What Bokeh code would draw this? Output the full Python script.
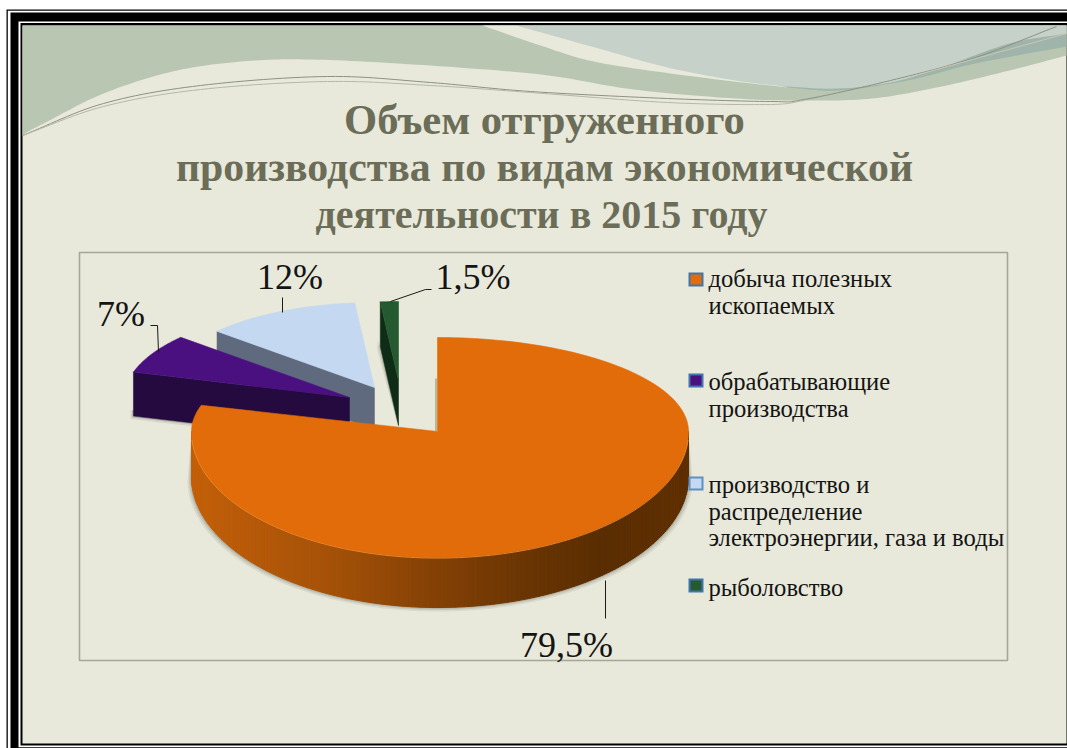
import numpy as np
from bokeh.plotting import figure
from bokeh.models import Range1d
from bokeh.core.properties import value
from bokeh.embed import file_html
from bokeh.resources import INLINE

# ---------- data ----------
categories = ["добыча полезных ископаемых", "обрабатывающие производства",
              "производство и распределение электроэнергии, газа и воды", "рыболовство"]
shares = [79.5, 7.0, 12.0, 1.5]
share_labels = ["79,5%", "7%", "12%", "1,5%"]
legend_lines = [["добыча полезных", "ископаемых"],
                ["обрабатывающие", "производства"],
                ["производство и", "распределение", "электроэнергии, газа и воды"],
                ["рыболовство"]]
title_lines = ["Объем отгруженного", "производства по видам экономической",
               "деятельности в 2015 году"]

# ---------- style ----------
BG = "#e8e9da"
top_colors = ["#e26c09", "#4a1080", "#c4d8f2", "#255a31"]
wall_colors = ["#8a4606", "#240a3e", "#5f6a7e", "#0e2c16"]
edge_colors = ["#3f74ae", "#3f74ae", "#5f8fc6", "#3f74ae"]
TITLE = "#6b6d58"
SERIF = "Liberation Serif"
BASE_SHIFT = 0.28  # em: the svg backend draws "alphabetic" text this far below its anchor

# slice layout: apex x, apex y, left radius, right radius, back depth, front depth, wall height
layout = [(437, 431, 246, 251, 94, 126, 50),
          (349, 397, 225, 225, 91, 110, 44),
          (374, 387, 210, 210, 85, 110, 42),
          (398, 380, 194, 194, 79, 110, 45)]

p = figure(width=1067, height=748, output_backend="svg", toolbar_location=None,
           x_range=Range1d(0, 1067), y_range=Range1d(748, 0),
           x_axis_type=None, y_axis_type=None, min_border=0, outline_line_color=None,
           background_fill_color="white", border_fill_color="white")
p.grid.visible = False


def box(l, t, r, b, c, **kw):
    p.quad(left=[l], right=[r], top=[t], bottom=[b], fill_color=c, line_color=None, **kw)


def label(x, y, t, size, align, color, **kw):
    p.text([x], [y - BASE_SHIFT * size], text=[t], text_font=value(SERIF),
           text_font_size=value(f"{size}px"), text_align=align, text_baseline="alphabetic",
           text_color=color, **kw)


def spline(pts, n=14):
    P = np.array(pts, float)
    P = np.vstack([2 * P[0] - P[1], P, 2 * P[-1] - P[-2]])
    out = []
    for i in range(1, len(P) - 2):
        for t in np.linspace(0, 1, n, endpoint=False):
            a, b, c, d = P[i - 1], P[i], P[i + 1], P[i + 2]
            out.append(0.5 * (2 * b + (c - a) * t + (2 * a - 5 * b + 4 * c - d) * t ** 2
                              + (3 * b - a - 3 * c + d) * t ** 3))
    out.append(P[-2])
    return np.array(out)


# ---------- frame and slide background ----------
box(6, 9, 1067, 748, "black")
box(7.3, 10.3, 1067, 748, "white")
box(10, 12, 1067, 748, "black")
box(18, 21, 1067, 746.7, "white")
box(20, 22.6, 1067, 745, "black")
box(22, 25, 1066, 743, BG)

# ---------- decorative swoosh ----------
sage_low = spline([(22, 134), (45, 122), (103, 93), (172, 71), (241, 61), (310, 59), (413, 64), (540, 74),
                   (633, 89), (735, 98), (804, 100), (872, 98), (941, 86), (1009, 70), (1066, 55)])
sage_poly_x = [22] + list(sage_low[:, 0]) + [1066, 540, 482, 22]
sage_poly_y = [134] + list(sage_low[:, 1]) + [25, 25, 25, 25]
p.patch(sage_poly_x, sage_poly_y, fill_color="#b9c6b1", line_color=None)

cream_up = spline([(482, 25), (540, 45), (598, 62), (701, 77), (787, 87)])
pale_low = spline([(516, 25), (530, 29), (598, 48), (667, 67), (735, 80), (787, 86), (838, 88),
                   (890, 82), (941, 67), (1009, 43), (1066, 33)])
teal_low = spline([(787, 87), (838, 90), (907, 80), (975, 63), (1066, 46)])
p.patch(list(cream_up[:, 0]) + [787, 516], list(cream_up[:, 1]) + [87, 25], fill_color=BG, line_color=None)
p.patch(list(teal_low[:, 0]) + [1066, 787], list(teal_low[:, 1]) + [25, 25], fill_color="#9fb5ab", line_color=None)
p.patch(list(pale_low[:, 0]) + [1066, 516], list(pale_low[:, 1]) + [25, 25],
        fill_color="#c5d1c9", line_color=None)

line_a = spline([(22, 135), (103, 103), (200, 85), (327, 76), (430, 82), (530, 91), (667, 98), (770, 101),
                 (804, 99), (890, 80), (975, 57), (1056, 26)])
line_b = spline([(22, 135), (103, 106), (200, 89), (327, 81), (430, 85), (530, 92), (667, 102), (770, 104),
                 (804, 100)])
p.line(line_a[:, 0], line_a[:, 1], line_color="#8d9180", line_width=1)
p.line(line_b[:, 0], line_b[:, 1], line_color="#b4b8a6", line_width=1)
p.line([907, 1066], [77, 33], line_color="#c9c6b0", line_width=1)

# ---------- chart area ----------
p.quad(left=[79], right=[1007], top=[252], bottom=[660], fill_color=None,
       line_color="#a5a698", line_width=1.6)

# ---------- 3D pie ----------
ends = np.cumsum(shares) / sum(shares) * 2 * np.pi
starts = np.r_[0, ends[:-1]]


def rim(i, th):
    ax, ay, rl, rr, back, front, _ = layout[i]
    s, c = np.sin(th), np.cos(th)
    return ax + np.where(s > 0, rr, rl) * s, ay - np.where(c > 0, back, front) * c


def wall_h(i, th):
    return layout[i][6] * (0.9 - 0.1 * np.cos(th))


def cut_wall(i):
    ax, ay, *_, h = layout[i]
    ex, ey = rim(i, np.array(starts[i]))
    for off, a in ((3, 0.12), (1.5, 0.2)):
        p.patch([ex - off, ax, ax, ex - off], [ey + h - 6, ay + h - 6, ay + h + off, ey + h + off],
                fill_color="#55564a", fill_alpha=a, line_color=None)
    p.patch([ex, ax, ax, ex], [ey, ay, ay + h, ey + h], fill_color=wall_colors[i], line_color=wall_colors[i],
            line_width=0.5)


def top_face(i):
    ax, ay, *_ = layout[i]
    th = np.linspace(starts[i], ends[i], 140)
    x, y = rim(i, th)
    p.patch(np.r_[ax, x], np.r_[ay, y], fill_color=top_colors[i], line_color=top_colors[i], line_width=0.6)


# small slices, back to front
for i in (3, 2, 1):
    cut_wall(i)
    top_face(i)

# main slice: rim with lighting gradient
stops_x = [191, 330, 430, 520, 600, 688]
stops_r = [196, 165, 134, 108, 90, 96]
stops_g = [96, 82, 66, 54, 46, 48]
stops_b = [10, 8, 6, 4, 2, 2]
th = np.linspace(np.pi / 2, 3 * np.pi / 2, 181)
x, y = rim(0, th)
hh = wall_h(0, th)
for off, a in ((4, 0.10), (2.5, 0.14), (1.2, 0.2)):
    p.patch(np.r_[x + off * np.sin(th), x[::-1]], np.r_[y + hh + off, y[::-1]],
            fill_color="#55564a", fill_alpha=a, line_color=None)
xs_wall, ys_wall, cs_wall = [], [], []
for a in range(len(th) - 1):
    xm = 0.5 * (x[a] + x[a + 1])
    r = int(np.interp(xm, stops_x, stops_r))
    g = int(np.interp(xm, stops_x, stops_g))
    b = int(np.interp(xm, stops_x, stops_b))
    xs_wall.append([x[a], x[a + 1], x[a + 1], x[a]])
    ys_wall.append([y[a], y[a + 1], y[a + 1] + hh[a + 1], y[a] + hh[a]])
    cs_wall.append(f"#{r:02x}{g:02x}{b:02x}")
p.patches(xs_wall, ys_wall, fill_color=cs_wall, line_color=cs_wall, line_width=1)
top_face(0)
tf = np.linspace(np.pi * 0.52, np.pi * 1.48, 120)
xf, yf = rim(0, tf)
p.line(xf, yf + 0.6, line_color="#ee8a2c", line_width=0.9)
p.line([435.5, 435.5], [378, 431], line_color="#8f8a60", line_width=1.5, line_alpha=0.7)

# ---------- data labels and leader lines ----------
label_pos = [(566, 655), (120.5, 324), (289.5, 287), (472.5, 287)]
for t, (lx, ly) in zip(share_labels, label_pos):
    label(lx, ly, t, 36, "center", "#141414")
leaders = [([605, 605], [580, 618]), ([150, 157, 158], [325, 325, 352]),
           ([282, 282], [297, 312]), ([390, 425, 431], [301, 289, 289])]
for lx, ly in leaders:
    p.line(lx, ly, line_color="#1a1a1a", line_width=1)

# ---------- legend ----------
marker_y = [272, 373, 476, 578]
line_y = [[285, 312], [388, 415], [491, 518, 544], [594]]
for i in range(4):
    my = marker_y[i]
    box(688, my, 703, my + 14, edge_colors[i])
    box(690, my + 2, 701, my + 12, top_colors[i])
    for t, ly in zip(legend_lines[i], line_y[i]):
        label(708, ly, t, 24.6, "left", "#141414")

# ---------- title ----------
title_sizes = [42.6, 41.8, 40]
title_x = [544, 544, 541]
for t, lx, ly, fs in zip(title_lines, title_x, [131, 178, 225], title_sizes):
    label(lx, ly, t, fs, "center", TITLE, text_font_style="bold")

open("out.html", "w").write(file_html(p, INLINE))
